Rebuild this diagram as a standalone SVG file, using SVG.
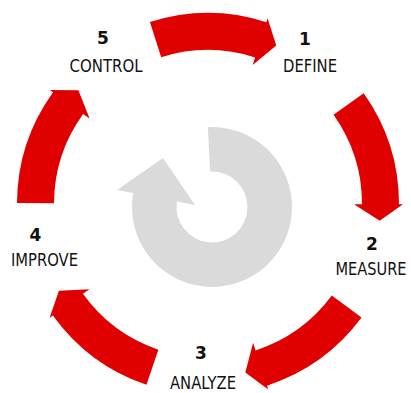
<svg xmlns="http://www.w3.org/2000/svg" xmlns:xlink="http://www.w3.org/1999/xlink" width="411" height="393" viewBox="0 0 411 393">
  <style>
    .arr { fill: #e10000; }
    .num { font-family: "DejaVu Sans", "Liberation Sans", sans-serif; font-weight: bold; font-size: 17px; fill: #111; text-anchor: middle; }
    .lbl { font-family: "DejaVu Sans", "Liberation Sans", sans-serif; font-size: 17px; fill: #111; text-anchor: middle; }
  </style>
  <defs>
    <path id="seg" d="M208,13 A191,191 0 0 1 318.91,48.51 L321.24,45.25 L321.18,73.81 L292.78,85.14 L297.43,78.63 A154,154 0 0 0 208,50 Z"/>
  </defs>
  <rect width="411" height="393" fill="#ffffff"/>
  <g id="cycle-center">
    <path fill="#dadada" d="M207.81,127.11 A80,80 0 1 1 133.22,193.11 L117,190 L163,158 L195,205 L176.94,201.45 A35.5,35.5 0 1 0 210.14,171.55 Z"/>
  </g>
  <g id="connectors" class="arr">
    <use xlink:href="#seg" href="#seg" transform="rotate(-17.7 208 204)"/>
    <use xlink:href="#seg" href="#seg" transform="rotate(54.6 208 204)"/>
    <use xlink:href="#seg" href="#seg" transform="rotate(126.5 208 204)"/>
    <use xlink:href="#seg" href="#seg" transform="rotate(198.8 208 204)"/>
    <use xlink:href="#seg" href="#seg" transform="rotate(270.3 208 204)"/>
  </g>
  <g id="step1">
    <text class="num" x="305" y="45">1</text>
    <text class="lbl" transform="translate(310 72) scale(0.87 1)">DEFINE</text>
  </g>
  <g id="step2">
    <text class="num" x="372" y="250">2</text>
    <text class="lbl" transform="translate(371 275) scale(0.86 1)">MEASURE</text>
  </g>
  <g id="step3">
    <text class="num" x="201" y="359">3</text>
    <text class="lbl" transform="translate(203 389) scale(0.87 1)">ANALYZE</text>
  </g>
  <g id="step4">
    <text class="num" x="35.5" y="241">4</text>
    <text class="lbl" transform="translate(44.5 266) scale(0.87 1)">IMPROVE</text>
  </g>
  <g id="step5">
    <text class="num" x="103" y="44">5</text>
    <text class="lbl" transform="translate(106 72) scale(0.88 1)">CONTROL</text>
  </g>
</svg>
